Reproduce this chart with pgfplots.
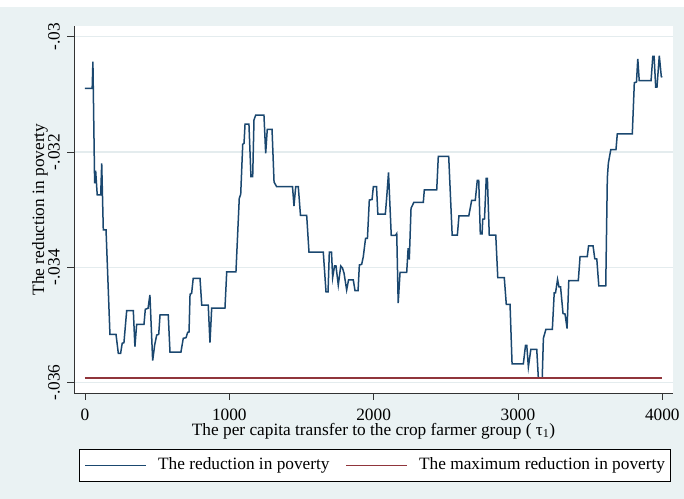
\documentclass[border=0pt]{standalone}
\usepackage{fontspec}
\setmainfont{Liberation Serif}
\usepackage{pgfplots}
\pgfplotsset{compat=1.18}
\definecolor{bgc}{HTML}{EAF2F3}
\definecolor{gridc}{HTML}{E4ECEE}
\definecolor{s2navy}{HTML}{1A476F}
\definecolor{s2maroon}{HTML}{90353B}
\newcommand{\chartfont}{\fontsize{17.3bp}{20bp}\selectfont}
\begin{document}
\begin{tikzpicture}
\fill[bgc] (-74bp,-106bp) rectangle (610bp,385.7bp);
\fill[white] (-74bp,385.7bp) rectangle (610bp,393bp);
\begin{axis}[
  at={(0bp,0bp)}, anchor=south west,
  scale only axis, width=599bp, height=367bp,
  xmin=-76, xmax=4074, ymin=-0.036179, ymax=-0.029814,
  scaled x ticks=false, scaled y ticks=false,
  axis x line*=bottom, axis y line*=left,
  axis line style={black!80, line width=0.8bp},
  axis background/.style={fill=white},
  tick align=outside, major tick length=6.7bp,
  tick style={black!80, line width=0.8bp},
  xtick={0,1000,2000,3000,4000},
  xticklabels={0,1000,2000,3000,4000},
  ytick={-0.036,-0.034,-0.032,-0.03},
  yticklabels={-.036,-.034,-.032,-.03},
  ymajorgrids, grid style={gridc, line width=1.2bp},
  font=\chartfont,
  xticklabel shift=20.5bp, yticklabel shift=7.6bp,
  xticklabel style={anchor=base, inner sep=0pt, font=\chartfont},
  yticklabel style={rotate=90, anchor=base, inner sep=0pt, font=\chartfont},
  xlabel={The per capita transfer to the crop farmer group ( τ\textsubscript{1})},
  ylabel={The reduction in poverty},
  xlabel style={at={(axis description cs:0.5,0)}, anchor=base, inner sep=0pt, yshift=-42bp, font=\chartfont},
  ylabel style={at={(axis description cs:-0.0434,0.5)}, anchor=south, inner sep=0pt, font=\chartfont},
  legend columns=2,
  legend image code/.code={\draw[#1, line width=1.5bp] (0bp,0bp) -- (61bp,0bp);},
  legend style={at={(axis description cs:0.009,-0.1534)}, anchor=north west,
    draw=black, fill=white, font=\chartfont,
    inner xsep=5bp, inner ysep=8bp,
    nodes={inner sep=0pt, text height=12.2bp, text depth=4bp},
    /tikz/every odd column/.append style={column sep=11bp},
    /tikz/every even column/.append style={column sep=16bp}},
]
\addplot[draw=s2navy, line width=1.5bp] coordinates {
(0,-0.030895) (50,-0.030895) (55,-0.030434) (67,-0.032542) (74,-0.032324)
(85,-0.032745) (109,-0.032745) (116,-0.032195) (127,-0.033352) (146,-0.033352)
(173,-0.035161) (215,-0.035161) (231,-0.03549) (247,-0.03549) (258,-0.035317)
(270,-0.035306) (289,-0.034751) (335,-0.034751) (346,-0.035376) (358,-0.034987)
(409,-0.034987) (418,-0.034727) (437,-0.03471) (450,-0.034479) (469,-0.035618)
(483,-0.035346) (497,-0.035173) (511,-0.035161) (520,-0.034826) (577,-0.034826)
(589,-0.035468) (665,-0.035468) (681,-0.03523) (700,-0.03522) (712,-0.035126)
(721,-0.03512) (728,-0.034467) (739,-0.03445) (750,-0.03419) (797,-0.03419)
(809,-0.034653) (854,-0.034653) (866,-0.035306) (878,-0.034705) (970,-0.034705)
(982,-0.03408) (1046,-0.03408) (1069,-0.032802) (1079,-0.032733) (1093,-0.031866)
(1102,-0.031849) (1109,-0.031514) (1136,-0.031514) (1150,-0.032428) (1162,-0.032428)
(1171,-0.031445) (1183,-0.031358) (1240,-0.031358) (1252,-0.032022) (1263,-0.031606)
(1296,-0.031606) (1310,-0.03252) (1328,-0.032601) (1438,-0.032601) (1448,-0.032936)
(1460,-0.032601) (1478,-0.032601) (1493,-0.033097) (1536,-0.033097) (1552,-0.033734)
(1651,-0.033734) (1670,-0.034427) (1684,-0.034427) (1693,-0.033734) (1708,-0.033734)
(1716,-0.034176) (1729,-0.033976) (1739,-0.033976) (1755,-0.034306) (1772,-0.033976)
(1784,-0.034011) (1795,-0.034103) (1813,-0.034392) (1826,-0.034219) (1859,-0.034219)
(1871,-0.034405) (1892,-0.034405) (1901,-0.033959) (1917,-0.033947) (1928,-0.03382)
(1944,-0.033496) (1957,-0.033496) (1970,-0.032832) (1989,-0.032823) (1998,-0.032601)
(2020,-0.032601) (2029,-0.033075) (2081,-0.033075) (2090,-0.032802) (2103,-0.032355)
(2122,-0.033447) (2151,-0.033447) (2160,-0.033413) (2170,-0.034618) (2183,-0.034086)
(2229,-0.034086) (2239,-0.033669) (2247,-0.033864) (2259,-0.032976) (2278,-0.032875)
(2344,-0.032875) (2351,-0.032658) (2437,-0.032658) (2448,-0.032074) (2520,-0.032074)
(2544,-0.033439) (2580,-0.033439) (2591,-0.033109) (2659,-0.033109) (2679,-0.03284)
(2704,-0.03284) (2718,-0.03249) (2728,-0.03249) (2739,-0.033421) (2751,-0.033421)
(2756,-0.033165) (2768,-0.033161) (2780,-0.032456) (2788,-0.032456) (2801,-0.033439)
(2846,-0.033439) (2860,-0.034176) (2905,-0.034176) (2919,-0.034644) (2945,-0.034644)
(2959,-0.035676) (3037,-0.035676) (3052,-0.035355) (3061,-0.035355) (3072,-0.035728)
(3089,-0.035421) (3130,-0.035421) (3141,-0.035917) (3168,-0.035917) (3176,-0.03523)
(3193,-0.035077) (3238,-0.035077) (3251,-0.034444) (3260,-0.034444) (3274,-0.03421)
(3284,-0.03434) (3295,-0.03434) (3312,-0.0348) (3326,-0.034809) (3340,-0.03506)
(3352,-0.034228) (3418,-0.034228) (3430,-0.033815) (3480,-0.033815) (3489,-0.033626)
(3520,-0.033626) (3532,-0.03385) (3546,-0.033855) (3560,-0.034323) (3608,-0.034323)
(3619,-0.03245) (3626,-0.032195) (3643,-0.031956) (3679,-0.031956) (3688,-0.031687)
(3792,-0.031687) (3806,-0.030798) (3821,-0.030786) (3830,-0.030383) (3840,-0.030763)
(3922,-0.030763) (3934,-0.03034) (3943,-0.03034) (3954,-0.030872) (3963,-0.030872)
(3979,-0.030329) (3993,-0.030694) (4000,-0.030699)
};
\addlegendentry{The reduction in poverty}
\addplot[draw=s2maroon, line width=1.3bp] coordinates {(0,-0.035917) (4000,-0.035917)};
\addlegendentry{The maximum reduction in poverty}
\end{axis}
\pgfresetboundingbox
\path (-74bp,-106bp) rectangle (610bp,393bp);
\end{tikzpicture}
\end{document}
